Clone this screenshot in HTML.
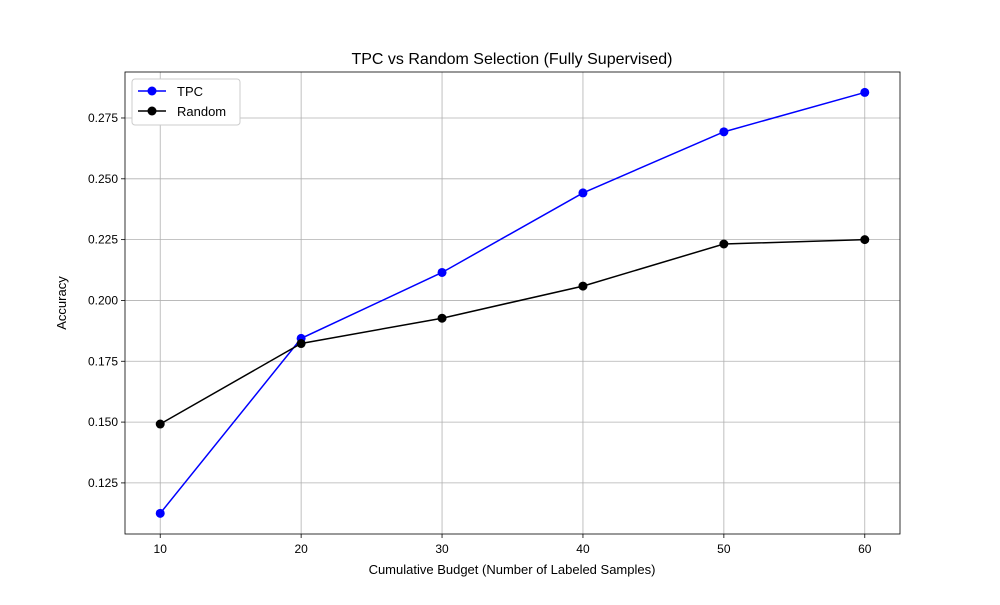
<!DOCTYPE html>
<html><head><meta charset="utf-8"><style>body{margin:0;background:#fff}svg{font-family:"Liberation Sans","DejaVu Sans",sans-serif}</style></head>
<body>
<svg id="chart" width="1000" height="600"></svg>
<script>
const xValues=[10,20,30,40,50,60];
const tpcValues=[0.1125,0.1844,0.2115,0.2442,0.2693,0.2855];
const randomValues=[0.1492,0.1823,0.1927,0.2059,0.2232,0.2250];
const xTicks=[10,20,30,40,50,60];
const yTicks=[0.125,0.150,0.175,0.200,0.225,0.250,0.275];
const L=125,R=900,T=72,B=534,xmin=7.5,xmax=62.5,ymin=0.1040,ymax=0.2939;
const sx=v=>L+(v-xmin)/(xmax-xmin)*(R-L);
const sy=v=>B-(v-ymin)/(ymax-ymin)*(B-T);
const svg=document.getElementById('chart');const NS='http://www.w3.org/2000/svg';
function mk(t,a,p){const e=document.createElementNS(NS,t);for(const k in a)e.setAttribute(k,a[k]);(p||svg).appendChild(e);return e;}
const grid=mk('g',{});


xTicks.forEach(v=>{const x=sx(v);
mk('line',{x1:x,x2:x,y1:T,y2:B,stroke:'#b0b0b0','stroke-width':0.8},grid);
mk('line',{x1:x,x2:x,y1:B,y2:B+4,stroke:'#000','stroke-width':0.8});
const t=mk('text',{x:x,y:B+19,'text-anchor':'middle','font-size':12});t.textContent=v;

});
yTicks.forEach(v=>{const y=sy(v);
mk('line',{x1:L,x2:R,y1:y,y2:y,stroke:'#b0b0b0','stroke-width':0.8},grid);
mk('line',{x1:L-4,x2:L,y1:y,y2:y,stroke:'#000','stroke-width':0.8});
const t=mk('text',{x:L-7,y:y+4,'text-anchor':'end','font-size':12});t.textContent=v.toFixed(3);

});
function series(vals,color,name){const g=mk('g',{});


mk('polyline',{points:vals.map((v,i)=>sx(xValues[i])+','+sy(v)).join(' '),fill:'none',stroke:color,'stroke-width':1.5},g);
vals.forEach((v,i)=>{const c=mk('circle',{cx:sx(xValues[i]),cy:sy(v),r:4.5,fill:color},g);

});}
series(tpcValues,'#0000ff','tpc-series');
series(randomValues,'#000000','random-series');
mk('rect',{x:L,y:T,width:R-L,height:B-T,fill:'none',stroke:'#000','stroke-width':0.8});
const title=mk('text',{x:512,y:64,'text-anchor':'middle','font-size':16});title.textContent='TPC vs Random Selection (Fully Supervised)';


const xl=mk('text',{x:512,y:574,'text-anchor':'middle','font-size':13});xl.textContent='Cumulative Budget (Number of Labeled Samples)';


const yl=mk('text',{x:66,y:303,'text-anchor':'middle','font-size':13,transform:'rotate(-90 66 303)'});yl.textContent='Accuracy';


const lg=mk('g',{});


mk('rect',{x:132,y:79,width:108,height:46,rx:3,fill:'#fff',stroke:'#ccc','stroke-width':1},lg);
[['TPC','#0000ff',91],['Random','#000',111]].forEach(([n,c,y])=>{
mk('line',{x1:138,x2:166,y1:y,y2:y,stroke:c,'stroke-width':1.5},lg);
mk('circle',{cx:152,cy:y,r:4.5,fill:c},lg);
const t=mk('text',{x:177,y:y+5,'font-size':13},lg);t.textContent=n;

});
</script>
</body></html>
